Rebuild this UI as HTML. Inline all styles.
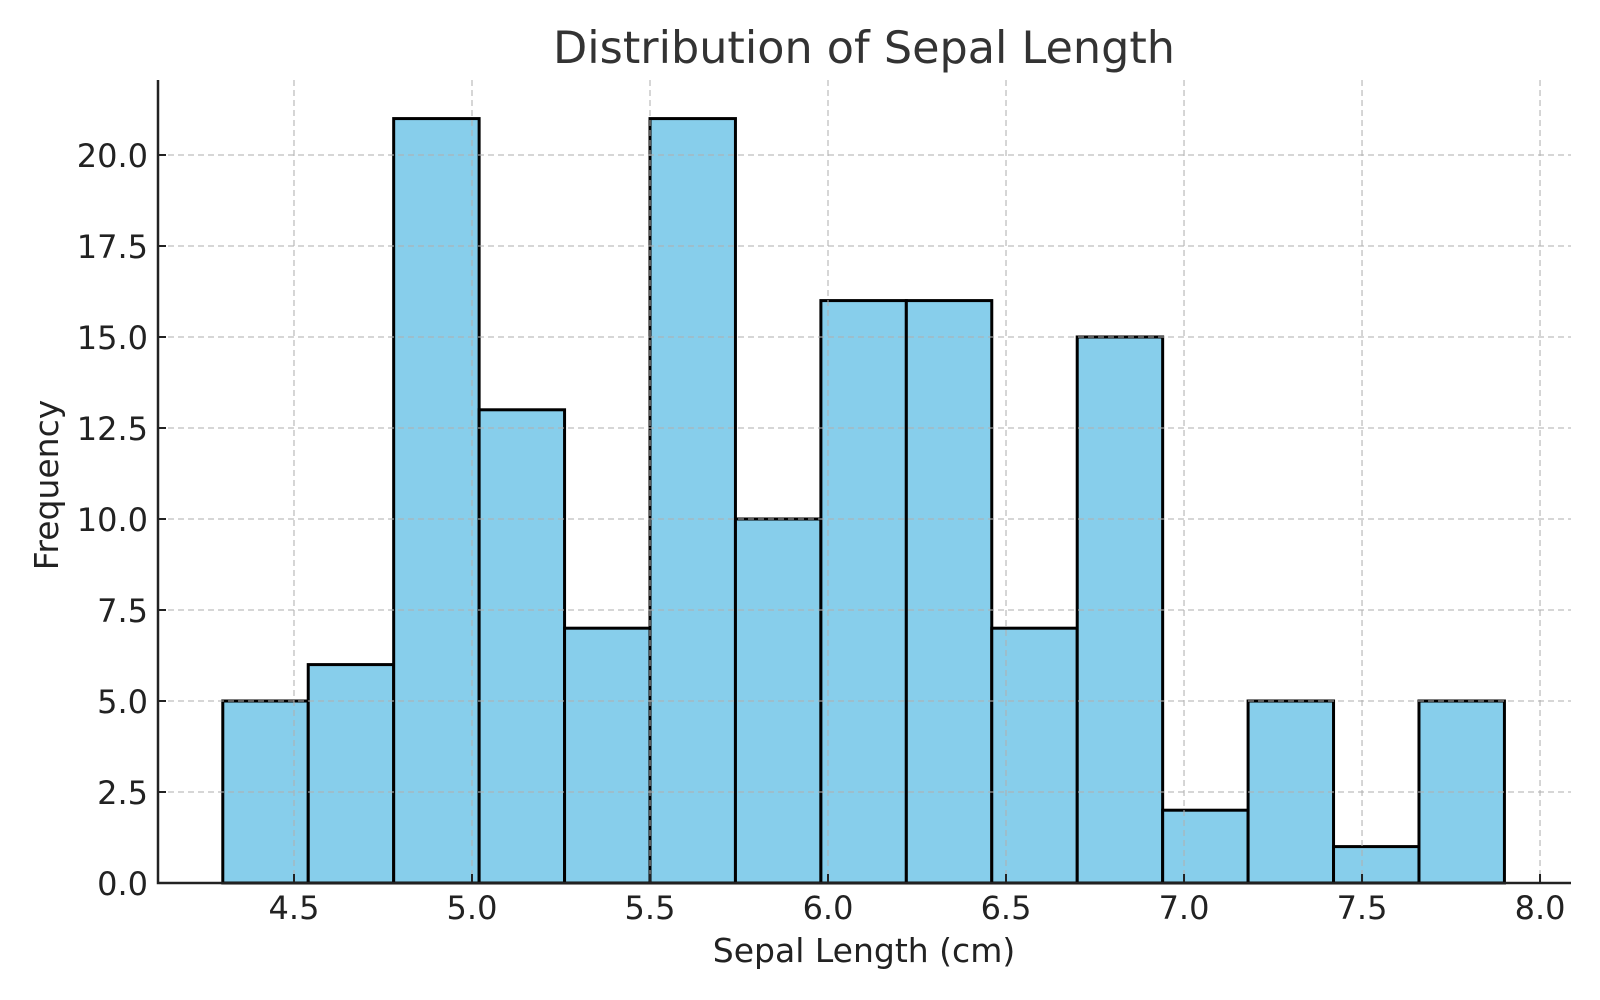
<!DOCTYPE html>
<html><head><meta charset="utf-8"><style>
body{margin:0;background:#fff}
svg{display:block;font-family:"DejaVu Sans","Liberation Sans",sans-serif}
</style></head><body>
<svg id="chart" width="1600" height="1000">
<text x="864" y="63" font-size="44.5" fill="#333" text-anchor="middle">Distribution of Sepal Length</text>
<text x="864" y="962" font-size="33" fill="#222" text-anchor="middle">Sepal Length (cm)</text>
<text transform="translate(58,485) rotate(-90)" font-size="33" fill="#222" text-anchor="middle">Frequency</text>
<g id="bars"></g><g id="grid"></g><g id="axes"></g>
</svg>
<script>
const binStart = 4.3;
const binWidth = 0.24;
const counts = [5,6,21,13,7,21,10,16,16,7,15,2,5,1,5];
const xTicks = [4.5,5.0,5.5,6.0,6.5,7.0,7.5,8.0];
const yTicks = [0,2.5,5,7.5,10,12.5,15,17.5,20];
const NS="http://www.w3.org/2000/svg";
const X0=158,X1=1571,Y0=883,Y1=80,xmin=4.118,xmax=8.087,ymax=22.06;
const sx=v=>X0+(v-xmin)/(xmax-xmin)*(X1-X0);
const sy=v=>Y0-v/ymax*(Y0-Y1);
function mk(t,a,p){const e=document.createElementNS(NS,t);for(const k in a)e.setAttribute(k,a[k]);p.appendChild(e);return e;}
const bars=document.getElementById('bars'),grid=document.getElementById('grid'),axes=document.getElementById('axes');
counts.forEach((c,i)=>{
 const x=sx(binStart+i*binWidth),x2=sx(binStart+(i+1)*binWidth);
 const r=mk('rect',{x:x,y:sy(c),width:x2-x,height:Y0-sy(c),fill:'#87ceeb',stroke:'#000','stroke-width':3},bars);
 
 
});
xTicks.forEach(v=>{
 const x=sx(v);
 const g=mk('line',{x1:x,x2:x,y1:Y1,y2:Y0,stroke:'#b0b0b0','stroke-opacity':0.7,'stroke-dasharray':'6,4','stroke-width':1.5},grid);
 
 
 mk('line',{x1:x,x2:x,y1:Y0,y2:Y0-9,stroke:'#222','stroke-width':2},axes);
 const t=mk('text',{x:x,y:919,'font-size':32,fill:'#222','text-anchor':'middle'},axes);
 t.textContent=v.toFixed(1);
 
 
});
yTicks.forEach(v=>{
 const y=sy(v);
 const g=mk('line',{x1:X0,x2:X1,y1:y,y2:y,stroke:'#b0b0b0','stroke-opacity':0.7,'stroke-dasharray':'6,4','stroke-width':1.5},grid);
 
 
 mk('line',{x1:X0,x2:X0+8,y1:y,y2:y,stroke:'#222','stroke-width':2},axes);
 const t=mk('text',{x:148,y:y+12,'font-size':32,fill:'#222','text-anchor':'end'},axes);
 t.textContent=v.toFixed(1);
 
 
});
const ax=mk('path',{d:`M${X0},${Y1}V${Y0}H${X1}`,fill:'none',stroke:'#222','stroke-width':2.5},axes);


</script>
</body></html>
